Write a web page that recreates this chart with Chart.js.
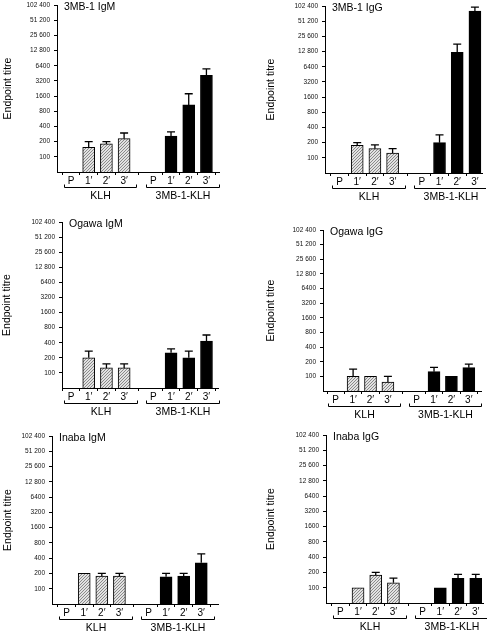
<!DOCTYPE html>
<html><head><meta charset="utf-8">
<script src="https://cdn.jsdelivr.net/npm/chart.js@4.4.0/dist/chart.umd.min.js"></script>
<style>
html,body{margin:0;padding:0;background:#fff;width:494px;height:632px;overflow:hidden;position:relative}
canvas{position:absolute}
</style></head><body>
<script>
// ---------- data ----------
const categories = ['P', '1′', '2′', '3′'];
const groups = ['KLH', '3MB-1-KLH'];
const yTickValues = [100, 200, 400, 800, 1600, 3200, 6400, 12800, 25600, 51200, 102400];
const yTickLabels = ['100', '200', '400', '800', '1600', '3200', '6400', '12 800', '25 600', '51 200', '102 400'];
const yAxisTitle = 'Endpoint titre';
const panelTitles = ['3MB-1 IgM', '3MB-1 IgG', 'Ogawa IgM', 'Ogawa IgG', 'Inaba IgM', 'Inaba IgG'];

// mean titre and top of error bar, per category (P has no bar)
const klhMean_3MB1IgM  = [null, 154, 180, 229];
const klhErr_3MB1IgM   = [null, 200, 200, 297];
const conjMean_3MB1IgM = [null, 259, 1070, 4150];
const conjErr_3MB1IgM  = [null, 311, 1780, 5550];

const klhMean_3MB1IgG  = [null, 177, 152, 124];
const klhErr_3MB1IgG   = [null, 200, 180, 152];
const conjMean_3MB1IgG = [null, 200, 12400, 81200];
const conjErr_3MB1IgG  = [null, 285, 17900, 97700];

const klhMean_OgawaIgM  = [null, 200, 126, 126];
const klhErr_OgawaIgM   = [null, 272, 151, 151];
const conjMean_OgawaIgM = [null, 252, 200, 431];
const conjErr_OgawaIgM  = [null, 302, 272, 571];

const klhMean_OgawaIgG  = [null, 100, 100, 76];
const klhErr_OgawaIgG   = [null, 141, null, 100];
const conjMean_OgawaIgG = [null, 125, 100, 151];
const conjErr_OgawaIgG  = [null, 153, null, 179];

const klhMean_InabaIgM  = [null, 200, 177, 177];
const klhErr_InabaIgM   = [null, null, 200, 200];
const conjMean_InabaIgM = [null, 172, 177, 324];
const conjErr_InabaIgM  = [null, 200, 200, 487];

const klhMean_InabaIgG  = [null, 100, 177, 125];
const klhErr_InabaIgG   = [null, null, 200, 155];
const conjMean_InabaIgG = [null, 100, 153, 153];
const conjErr_InabaIgG  = [null, null, 183, 183];

const panelSeries = [
  [klhMean_3MB1IgM, klhErr_3MB1IgM, conjMean_3MB1IgM, conjErr_3MB1IgM],
  [klhMean_3MB1IgG, klhErr_3MB1IgG, conjMean_3MB1IgG, conjErr_3MB1IgG],
  [klhMean_OgawaIgM, klhErr_OgawaIgM, conjMean_OgawaIgM, conjErr_OgawaIgM],
  [klhMean_OgawaIgG, klhErr_OgawaIgG, conjMean_OgawaIgG, conjErr_OgawaIgG],
  [klhMean_InabaIgM, klhErr_InabaIgM, conjMean_InabaIgM, conjErr_InabaIgM],
  [klhMean_InabaIgG, klhErr_InabaIgG, conjMean_InabaIgG, conjErr_InabaIgG]
];

// ---------- layout (pixel boxes of each plot area) ----------
const groupOffset = 4.65;
const panelBoxes = [
  {col: 0,   left: 57,  right: 219, top: 5,     bottom: 172.3, xMin: -0.79, xMax: 8.36, titleX: 8},
  {col: 247, left: 325, right: 482, top: 5.5,   bottom: 172,   xMin: -0.82, xMax: 8.05, titleX: 271},
  {col: 0,   left: 62,  right: 218, top: 221.7, bottom: 387.7, xMin: -0.51, xMax: 8.3,  titleX: 7},
  {col: 247, left: 323, right: 481, top: 230.3, bottom: 391,   xMin: -0.73, xMax: 8.35, titleX: 271},
  {col: 0,   left: 52,  right: 218, top: 435.7, bottom: 603.3, xMin: -0.83, xMax: 8.6,  titleX: 8},
  {col: 247, left: 326, right: 483, top: 435,   bottom: 602.7, xMin: -0.81, xMax: 8.06, titleX: 271}
];

const FONT = "'Liberation Sans', Arial, Helvetica, sans-serif";
Chart.defaults.font.family = FONT;
Chart.defaults.color = '#000';

// hatch pattern
function makeHatch() {
  const c = document.createElement('canvas');
  c.width = 3; c.height = 3;
  const x = c.getContext('2d');
  x.fillStyle = '#e2e2e2';
  x.fillRect(0, 0, 3, 3);
  x.fillStyle = '#8a8a8a';
  x.fillRect(2, 0, 1, 1);
  x.fillRect(1, 1, 1, 1);
  x.fillRect(0, 2, 1, 1);
  return x.createPattern(c, 'repeat');
}
const hatch = makeHatch();

const errorBars = {
  id: 'errorBars',
  afterDatasetsDraw(chart) {
    const ctx = chart.ctx, ys = chart.scales.y;
    chart.data.datasets.forEach((ds, di) => {
      const meta = chart.getDatasetMeta(di);
      meta.data.forEach((bar, i) => {
        const d = ds.data[i];
        if (d.e == null || d.e <= d.y) return;
        const yt = ys.getPixelForValue(d.e);
        ctx.save();
        ctx.strokeStyle = '#000';
        ctx.lineWidth = 1.3;
        ctx.beginPath();
        ctx.moveTo(bar.x, bar.y); ctx.lineTo(bar.x, yt);
        ctx.moveTo(bar.x - 4, yt); ctx.lineTo(bar.x + 4, yt);
        ctx.stroke();
        ctx.restore();
      });
    });
  }
};

const decor = {
  id: 'decor',
  afterDraw(chart, args, opts) {
    const ctx = chart.ctx, xs = chart.scales.x, ca = chart.chartArea;
    ctx.save();
    // panel title
    ctx.fillStyle = '#000';
    ctx.font = '10.5px ' + FONT;
    ctx.textAlign = 'left';
    ctx.textBaseline = 'middle';
    ctx.fillText(opts.title, ca.left + 7, ca.top + 2.5);
    // brackets + group labels
    const yb = ca.bottom + 14.5;
    ctx.strokeStyle = '#000';
    ctx.lineWidth = 1;
    ctx.font = '10.5px ' + FONT;
    ctx.textAlign = 'center';
    groups.forEach((g, gi) => {
      const a = Math.round(xs.getPixelForValue(gi * groupOffset - 0.42)) + 0.5;
      const b = Math.round(xs.getPixelForValue(gi * groupOffset + 3.7)) + 0.5;
      const yy = Math.round(yb) + 0.5;
      ctx.beginPath();
      ctx.moveTo(a, yy - 3); ctx.lineTo(a, yy); ctx.lineTo(b, yy); ctx.lineTo(b, yy - 3);
      ctx.stroke();
      ctx.fillText(g, (a + b) / 2, yb + 10);
    });
    ctx.restore();
  }
};

const xTickPos = [];
const xTickLab = [];
groups.forEach((g, gi) => categories.forEach((c, ci) => { xTickPos.push(gi * groupOffset + ci); xTickLab.push(c); }));

panelBoxes.forEach((box, pi) => {
  const cv = document.createElement('canvas');
  const top = box.top - 8;
  const w = Math.round(box.right + 4 - box.col);
  const h = box.bottom + 36 - top;
  cv.width = w; cv.height = Math.round(h);
  cv.style.left = box.col + 'px';
  cv.style.top = top + 'px';
  document.body.appendChild(cv);
  const [km, ke, cm, ce] = panelSeries[pi];
  const mk = (m, e, gi) => categories.map((c, i) => ({x: gi * groupOffset + i, y: m[i], e: e[i]})).filter(d => d.y != null);
  new Chart(cv, {
    type: 'bar',
    data: {
      datasets: [
        {label: groups[0], data: mk(km, ke, 0), backgroundColor: hatch, borderColor: '#000', borderWidth: 1, barThickness: 12, grouped: false},
        {label: groups[1], data: mk(cm, ce, 1), backgroundColor: '#000', borderColor: '#000', borderWidth: 1, barThickness: 12, grouped: false}
      ]
    },
    options: {
      responsive: false,
      animation: false,
      devicePixelRatio: 1,
      layout: {padding: {top: 8, right: 4, left: 0, bottom: 0}},
      plugins: {legend: {display: false}, tooltip: {enabled: false}, decor: {title: panelTitles[pi]}},
      scales: {
        x: {
          type: 'linear', min: box.xMin, max: box.xMax, offset: false,
          afterBuildTicks: s => { s.ticks = xTickPos.map(v => ({value: v})); },
          afterFit: s => { s.height = 36; },
          ticks: {autoSkip: false, maxRotation: 0, padding: 0, font: {size: 10}, color: '#000',
                  callback: (v, i) => xTickLab[i]},
          grid: {display: true, drawOnChartArea: false, drawTicks: true, tickLength: 3, color: '#000', tickColor: '#000'},
          border: {display: true, color: '#000', width: 1}
        },
        y: {
          type: 'logarithmic', min: 50, max: 102400,
          afterBuildTicks: s => { s.ticks = yTickValues.map(v => ({value: v})); },
          afterFit: s => { s.width = box.left - box.col; },
          ticks: {autoSkip: false, padding: 4, font: {size: 6.5}, color: '#111',
                  callback: (v, i) => yTickLabels[i]},
          grid: {display: true, drawOnChartArea: false, drawTicks: true, tickLength: 3, color: '#000', tickColor: '#000'},
          border: {display: true, color: '#000', width: 1},
          title: {display: true, text: yAxisTitle, color: '#000', font: {size: 10.5},
                  padding: {top: box.titleX - box.col - 6.3, bottom: 0}}
        }
      }
    },
    plugins: [errorBars, decor]
  });
});
</script>
</body></html>
